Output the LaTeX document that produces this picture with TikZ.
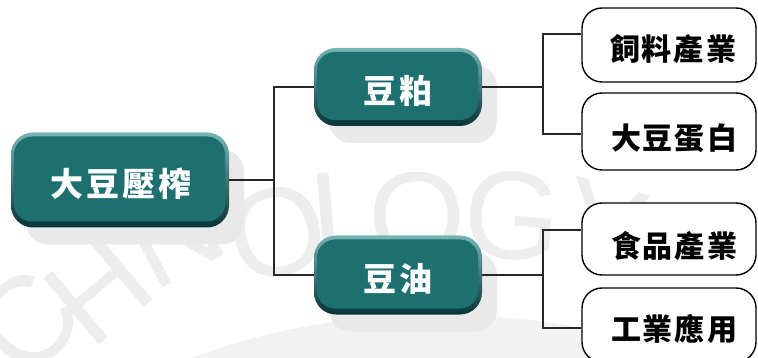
\documentclass[tikz,border=0pt]{standalone}
\usepackage{fontspec}
\setmainfont{Liberation Sans}
\newfontfamily\cjk{Noto Sans CJK TC}
\usetikzlibrary{shadows}
\definecolor{tealmid}{RGB}{29,111,112}
\definecolor{tealhi}{RGB}{120,180,180}
\definecolor{tealdk}{RGB}{8,52,53}
\definecolor{shadowgray}{RGB}{233,233,233}
\definecolor{wm}{RGB}{237,237,237}
\definecolor{wmarc}{RGB}{242,242,242}
\begin{document}
\begin{tikzpicture}[x=1pt,y=-1pt,
  tealbox/.style={rounded corners=22pt, top color=tealhi, bottom color=tealdk, draw=none, inner sep=0pt,
    drop shadow={shadow xshift=15pt, shadow yshift=-17pt, fill=shadowgray, opacity=1},
    path picture={\fill[tealmid, rounded corners=18pt] ([shift={(3pt,-4pt)}]path picture bounding box.north west) rectangle ([shift={(-4pt,6pt)}]path picture bounding box.south east);}},
  leafbox/.style={draw=black, line width=1.4pt, rounded corners=20pt, fill=white, inner sep=0pt},
  tealtext/.style={inner sep=0pt, text=white, font=\cjk\bfseries\fontsize{33}{33}\selectfont},
  leaftext/.style={inner sep=0pt, text=black, font=\cjk\bfseries\fontsize{30}{30}\selectfont},
  wmtext/.style={inner sep=0pt, text=wm, font=\fontsize{125}{125}\selectfont},
  conn/.style={line width=1.1pt, draw=black!85}
]
\useasboundingbox[fill=white] (0,0) rectangle (758,358);

% watermark
\fill[wmarc] (440,515) ellipse [x radius=400pt, y radius=200pt];
\node[wmtext, rotate=50] (wC) at (28,322) {C};
\node[wmtext, rotate=40] (wH) at (98,290) {H};
\node[wmtext, rotate=28] (wN) at (173,233) {N};
\node[wmtext, rotate=15] (wO1) at (277,232) {O};
\node[wmtext, rotate=5] (wL) at (345,215) {L};
\node[wmtext, rotate=0] (wO2) at (417,216) {O};
\node[wmtext, rotate=-5] (wG) at (513,216) {G};
\node[wmtext, rotate=-15] (wY) at (603,228) {Y};

% teal boxes
\node[tealbox, minimum width=218pt, minimum height=95pt] (root) at (120,180) {};
\node[tealbox, minimum width=168pt, minimum height=78pt] (meal) at (398,87) {};
\node[tealbox, minimum width=168pt, minimum height=79pt] (oil) at (398,275) {};
\node[tealtext] (troot) at (121,184) {大\hspace{3pt}豆\hspace{3pt}壓\hspace{3pt}榨};
\node[tealtext] (tmeal) at (398,91) {豆\hspace{4pt}粕};
\node[tealtext] (toil) at (398,279) {豆\hspace{4pt}油};

% leaf boxes
\node[leafbox, minimum width=174pt, minimum height=74pt] (leaf1) at (669,45) {};
\node[leafbox, minimum width=174pt, minimum height=77pt] (leaf2) at (669,131.5) {};
\node[leafbox, minimum width=174pt, minimum height=72pt] (leaf3) at (669,239) {};
\node[leafbox, minimum width=174pt, minimum height=74pt] (leaf4) at (669,325) {};
\node[leaftext] (t1) at (673,49) {飼\hspace{2pt}料\hspace{2pt}產\hspace{2pt}業};
\node[leaftext] (t2) at (674,138) {大\hspace{2pt}豆\hspace{2pt}蛋\hspace{2pt}白};
\node[leaftext] (t3) at (674,246) {食\hspace{2pt}品\hspace{2pt}產\hspace{2pt}業};
\node[leaftext] (t4) at (674,329) {工\hspace{2pt}業\hspace{2pt}應\hspace{2pt}用};

% connectors
\coordinate (ja) at (274,180);
\coordinate (jb) at (543,87);
\coordinate (jc) at (543,275);
\coordinate (p1) at (543,34);
\coordinate (p2) at (543,134);
\coordinate (p3) at (543,230);
\coordinate (p4) at (543,328);
\draw[conn] (root.east) -- (ja);
\draw[conn] (meal.west) -| (ja |- oil.west) -- (oil.west);
\draw[conn] (meal.east) -- (jb);
\draw[conn] (leaf1.west |- p1) -- (p1) -- (p2) -- (leaf2.west |- p2);
\draw[conn] (oil.east) -- (jc);
\draw[conn] (leaf3.west |- p3) -- (p3) -- (p4) -- (leaf4.west |- p4);
\end{tikzpicture}
\end{document}
